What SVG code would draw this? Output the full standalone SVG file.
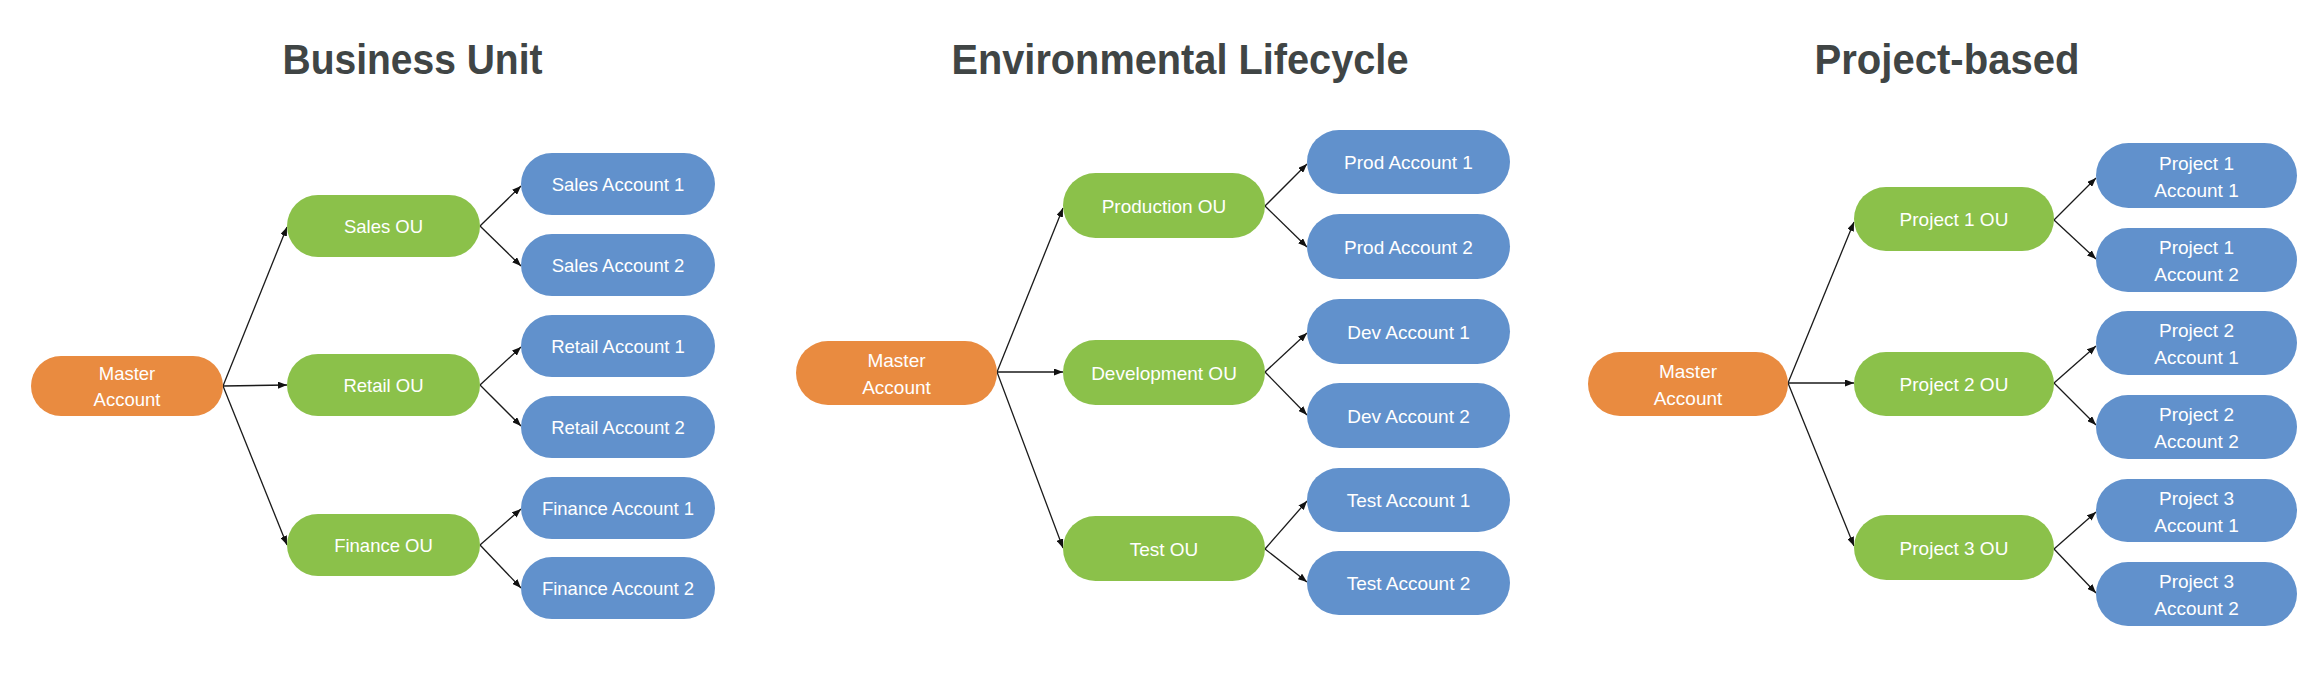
<svg xmlns="http://www.w3.org/2000/svg" width="2320" height="674" viewBox="0 0 2320 674">
<defs>
<style>
.title{font-family:"Liberation Sans",Arial,sans-serif;font-weight:bold;font-size:43px;fill:#404545;text-anchor:middle}
.lbl{font-family:"Liberation Sans",Arial,sans-serif;font-size:19px;fill:#ffffff;text-anchor:middle}
.bu .lbl{font-size:18.5px}
.m{fill:#E98B40}
.ou{fill:#8BC14A}
.ac{fill:#6191CC}
.conn path{fill:none;stroke:#1a1a1a;stroke-width:1.3;marker-end:url(#arr)}
</style>
<marker id="arr" markerUnits="userSpaceOnUse" markerWidth="9" markerHeight="7" refX="9" refY="3.5" orient="auto">
<path d="M0,0 L9,3.5 L0,7 z" fill="#111"/>
</marker>
</defs>
<rect width="2320" height="674" fill="#ffffff"/>

<text class="title" x="412.5" y="74" textLength="260" lengthAdjust="spacingAndGlyphs">Business Unit</text>
<text class="title" x="1180" y="74" textLength="457" lengthAdjust="spacingAndGlyphs">Environmental Lifecycle</text>
<text class="title" x="1947" y="74" textLength="265" lengthAdjust="spacingAndGlyphs">Project-based</text>

<g id="connectors" class="conn">
<path d="M223,386 L287,227"/>
<path d="M223,386 L287,385"/>
<path d="M223,386 L287,545"/>
<path d="M480,226 L521,186"/>
<path d="M480,226 L521,266"/>
<path d="M480,385 L521,347"/>
<path d="M480,385 L521,426"/>
<path d="M480,545 L521,509"/>
<path d="M480,545 L521,588"/>

<path d="M997,372 L1063,208"/>
<path d="M997,372 L1063,372"/>
<path d="M997,372 L1063,548"/>
<path d="M1265,206 L1307,164"/>
<path d="M1265,206 L1307,247"/>
<path d="M1265,372 L1307,333"/>
<path d="M1265,372 L1307,415"/>
<path d="M1265,549 L1307,501"/>
<path d="M1265,549 L1307,582"/>

<path d="M1788,383 L1854,222"/>
<path d="M1788,383 L1854,383"/>
<path d="M1788,383 L1854,546"/>
<path d="M2054,220 L2096,178"/>
<path d="M2054,220 L2096,259"/>
<path d="M2054,383 L2096,346"/>
<path d="M2054,383 L2096,425"/>
<path d="M2054,549 L2096,512"/>
<path d="M2054,549 L2096,593"/>
</g>

<g class="bu">
<g id="bu-master"><rect class="m" x="31" y="356" width="192" height="60" rx="30"/><text class="lbl" x="127" y="380">Master</text><text class="lbl" x="127" y="406">Account</text></g>
<g id="bu-sales-ou"><rect class="ou" x="287" y="195" width="193" height="62" rx="31"/><text class="lbl" x="383.5" y="233">Sales OU</text></g>
<g id="bu-retail-ou"><rect class="ou" x="287" y="354" width="193" height="62" rx="31"/><text class="lbl" x="383.5" y="392">Retail OU</text></g>
<g id="bu-finance-ou"><rect class="ou" x="287" y="514" width="193" height="62" rx="31"/><text class="lbl" x="383.5" y="552">Finance OU</text></g>
<g id="bu-sales-acc1"><rect class="ac" x="521" y="153" width="194" height="62" rx="31"/><text class="lbl" x="618" y="191">Sales Account 1</text></g>
<g id="bu-sales-acc2"><rect class="ac" x="521" y="234" width="194" height="62" rx="31"/><text class="lbl" x="618" y="272">Sales Account 2</text></g>
<g id="bu-retail-acc1"><rect class="ac" x="521" y="315" width="194" height="62" rx="31"/><text class="lbl" x="618" y="353">Retail Account 1</text></g>
<g id="bu-retail-acc2"><rect class="ac" x="521" y="396" width="194" height="62" rx="31"/><text class="lbl" x="618" y="434">Retail Account 2</text></g>
<g id="bu-finance-acc1"><rect class="ac" x="521" y="477" width="194" height="62" rx="31"/><text class="lbl" x="618" y="515">Finance Account 1</text></g>
<g id="bu-finance-acc2"><rect class="ac" x="521" y="557" width="194" height="62" rx="31"/><text class="lbl" x="618" y="595">Finance Account 2</text></g>
</g>

<g class="el">
<g id="el-master"><rect class="m" x="796" y="341" width="201" height="64" rx="32"/><text class="lbl" x="896.5" y="367">Master</text><text class="lbl" x="896.5" y="394">Account</text></g>
<g id="el-prod-ou"><rect class="ou" x="1063" y="173" width="202" height="65" rx="32.5"/><text class="lbl" x="1164" y="212.5">Production OU</text></g>
<g id="el-dev-ou"><rect class="ou" x="1063" y="340" width="202" height="65" rx="32.5"/><text class="lbl" x="1164" y="379.5">Development OU</text></g>
<g id="el-test-ou"><rect class="ou" x="1063" y="516" width="202" height="65" rx="32.5"/><text class="lbl" x="1164" y="555.5">Test OU</text></g>
<g id="el-prod-acc1"><rect class="ac" x="1307" y="130" width="203" height="64" rx="32"/><text class="lbl" x="1408.5" y="169">Prod Account 1</text></g>
<g id="el-prod-acc2"><rect class="ac" x="1307" y="214" width="203" height="65" rx="32.5"/><text class="lbl" x="1408.5" y="253.5">Prod Account 2</text></g>
<g id="el-dev-acc1"><rect class="ac" x="1307" y="299" width="203" height="65" rx="32.5"/><text class="lbl" x="1408.5" y="338.5">Dev Account 1</text></g>
<g id="el-dev-acc2"><rect class="ac" x="1307" y="383" width="203" height="65" rx="32.5"/><text class="lbl" x="1408.5" y="422.5">Dev Account 2</text></g>
<g id="el-test-acc1"><rect class="ac" x="1307" y="468" width="203" height="64" rx="32"/><text class="lbl" x="1408.5" y="507">Test Account 1</text></g>
<g id="el-test-acc2"><rect class="ac" x="1307" y="551" width="203" height="64" rx="32"/><text class="lbl" x="1408.5" y="590">Test Account 2</text></g>
</g>

<g class="pb">
<g id="pb-master"><rect class="m" x="1588" y="352" width="200" height="64" rx="32"/><text class="lbl" x="1688" y="378">Master</text><text class="lbl" x="1688" y="405">Account</text></g>
<g id="pb-p1-ou"><rect class="ou" x="1854" y="187" width="200" height="64" rx="32"/><text class="lbl" x="1954" y="226">Project 1 OU</text></g>
<g id="pb-p2-ou"><rect class="ou" x="1854" y="352" width="200" height="64" rx="32"/><text class="lbl" x="1954" y="391">Project 2 OU</text></g>
<g id="pb-p3-ou"><rect class="ou" x="1854" y="515" width="200" height="65" rx="32.5"/><text class="lbl" x="1954" y="554.5">Project 3 OU</text></g>
<g id="pb-p1-acc1"><rect class="ac" x="2096" y="143" width="201" height="65" rx="32.5"/><text class="lbl" x="2196.5" y="169.5">Project 1</text><text class="lbl" x="2196.5" y="196.5">Account 1</text></g>
<g id="pb-p1-acc2"><rect class="ac" x="2096" y="228" width="201" height="64" rx="32"/><text class="lbl" x="2196.5" y="254">Project 1</text><text class="lbl" x="2196.5" y="281">Account 2</text></g>
<g id="pb-p2-acc1"><rect class="ac" x="2096" y="311" width="201" height="64" rx="32"/><text class="lbl" x="2196.5" y="337">Project 2</text><text class="lbl" x="2196.5" y="364">Account 1</text></g>
<g id="pb-p2-acc2"><rect class="ac" x="2096" y="395" width="201" height="64" rx="32"/><text class="lbl" x="2196.5" y="421">Project 2</text><text class="lbl" x="2196.5" y="448">Account 2</text></g>
<g id="pb-p3-acc1"><rect class="ac" x="2096" y="479" width="201" height="63" rx="31.5"/><text class="lbl" x="2196.5" y="504.5">Project 3</text><text class="lbl" x="2196.5" y="531.5">Account 1</text></g>
<g id="pb-p3-acc2"><rect class="ac" x="2096" y="562" width="201" height="64" rx="32"/><text class="lbl" x="2196.5" y="588">Project 3</text><text class="lbl" x="2196.5" y="615">Account 2</text></g>
</g>
</svg>
